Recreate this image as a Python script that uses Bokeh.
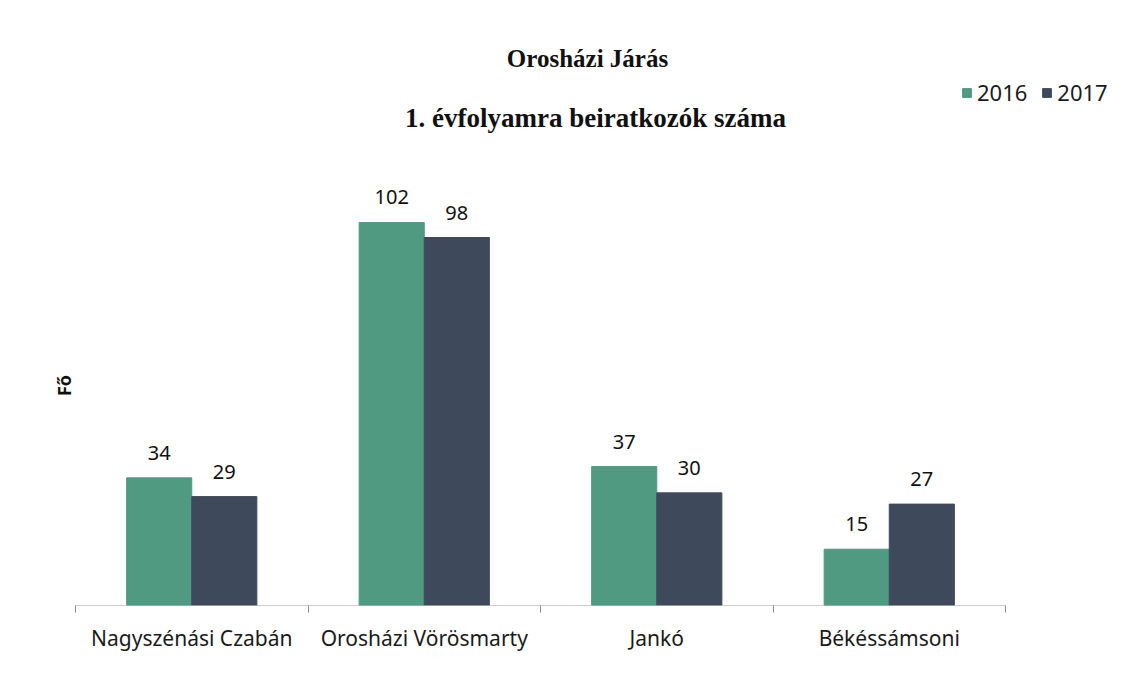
import math
from bokeh.plotting import figure
from bokeh.models import (ColumnDataSource, FixedTicker, Label, LabelSet, Legend,
                          LegendItem, Range1d)
from bokeh.core.properties import value
from bokeh.transform import dodge
from bokeh.embed import file_html
from bokeh.resources import INLINE

# ---- data ----
categories = ["Nagyszénási Czabán", "Orosházi Vörösmarty", "Jankó", "Békéssámsoni"]
values_2016 = [34, 102, 37, 15]
values_2017 = [29, 98, 30, 27]
series_names = ["2016", "2017"]
title1 = "Orosházi Járás"
title2 = "1. évfolyamra beiratkozók száma"
y_label = "Fő"

GREEN = "#4f9a80"
DARK = "#3e4a5c"

# ---- layout helpers (page pixels -> data) ----
AX_LEFT_PX = 75.0
CAT_PX = 232.5
BASE_PX = 605.0
UNIT_PX = 3.755
FRAME_L, FRAME_R, FRAME_T = 20.0, 1125.0, 20.0

def dx(px):
    return (px - AX_LEFT_PX) / CAT_PX

def dy(py):
    return (BASE_PX - py) / UNIT_PX

xpos = [i + 0.5 for i in range(len(categories))]
src = ColumnDataSource(dict(x=xpos, v16=values_2016, v17=values_2017,
                            l16=[str(v) for v in values_2016],
                            l17=[str(v) for v in values_2017]))

p = figure(frame_width=int(FRAME_R - FRAME_L), frame_height=int(BASE_PX - FRAME_T),
           min_border_left=20, min_border_right=4, min_border_top=20, min_border_bottom=55,
           x_range=Range1d(dx(FRAME_L), dx(FRAME_R)),
           y_range=Range1d(0, dy(FRAME_T)),
           output_backend="svg", toolbar_location=None)
p.outline_line_color = None
p.xgrid.visible = False
p.ygrid.visible = False
p.yaxis.visible = False
p.background_fill_color = "white"
p.border_fill_color = "white"

W = 0.28
r16 = p.vbar(x=dodge("x", -W / 2, range=p.x_range), top="v16", width=W, bottom=0,
             source=src, fill_color=GREEN, line_color=GREEN)
r17 = p.vbar(x=dodge("x", W / 2, range=p.x_range), top="v17", width=W, bottom=0,
             source=src, fill_color=DARK, line_color=DARK)

# baseline across categories
p.segment(x0=[0], y0=[0], x1=[len(categories)], y1=[0], line_color="#9a9a9a", line_width=1.2)

ax = p.xaxis[0]
ax.ticker = FixedTicker(ticks=xpos, minor_ticks=list(range(len(categories) + 1)))
ax.major_label_overrides = {x: c for x, c in zip(xpos, categories)}
ax.axis_line_color = None
ax.major_tick_line_color = None
ax.minor_tick_line_color = "#8a8a8a"
ax.minor_tick_in = 0
ax.minor_tick_out = 7
ax.major_label_standoff = 11
ax.major_label_text_font = "Noto Sans"
ax.major_label_text_font_size = "21px"
ax.major_label_text_color = "#1a1a1a"

for col, lab, off in (("v16", "l16", -W / 2), ("v17", "l17", W / 2)):
    ls = LabelSet(x=dodge("x", off, range=p.x_range), y=col, text=lab, source=src,
                  text_align="center", text_baseline="bottom", y_offset=18,
                  text_font=value("Noto Sans"), text_font_size=value("20px"),
                  text_color="#111111")
    p.add_layout(ls)

p.add_layout(Label(x=dx(587), y=dy(58), text=title1, text_align="center",
                   text_baseline="middle", text_font="Liberation Serif",
                   text_font_style="bold", text_font_size="25px", text_color="#111111"))
p.add_layout(Label(x=dx(595), y=dy(117), text=title2, text_align="center",
                   text_baseline="middle", text_font="Liberation Serif",
                   text_font_style="bold", text_font_size="27px", text_color="#111111"))
p.add_layout(Label(x=dx(63), y=dy(385), text=y_label, angle=math.pi / 2,
                   text_align="center", text_baseline="middle", text_font="Noto Sans",
                   text_font_style="bold", text_font_size="18px", text_color="#111111"))

legend = Legend(items=[LegendItem(label=series_names[0], renderers=[r16]),
                       LegendItem(label=series_names[1], renderers=[r17])],
                orientation="horizontal", location=(941, 498),
                glyph_width=11, glyph_height=11, label_standoff=5, spacing=14,
                padding=0, margin=0, border_line_color=None, background_fill_alpha=0,
                label_text_font="Noto Sans", label_text_font_size="22px",
                label_text_color="#1a1a1a")
p.add_layout(legend, "center")

open("out.html", "w").write(file_html(p, INLINE))
